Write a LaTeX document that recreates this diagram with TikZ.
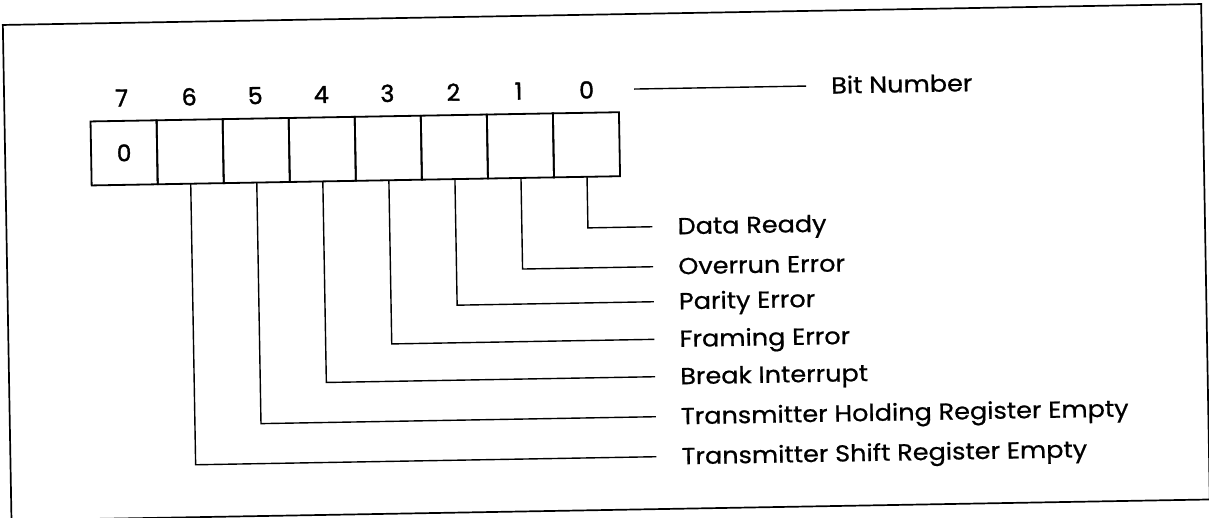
\documentclass[tikz,border=0pt]{standalone}
\usepackage{fontspec}
\setmainfont{Poppins}
\newfontfamily\lblfont[FakeStretch=1.1,FakeBold=0.7]{Poppins}
\newfontfamily\numfont[FakeBold=1.6]{Poppins}
\begin{document}
\begin{tikzpicture}[x=1pt,y=-1pt,
  cell/.style={draw, line width=1.8pt, minimum width=66.06pt, minimum height=64pt,
    inner sep=0pt, outer sep=0pt, font=\numfont\fontsize{23}{25}\selectfont},
  bitnum/.style={inner sep=0pt, font=\numfont\fontsize{23.5}{25}\selectfont},
  lbl/.style={anchor=west, inner sep=0pt, text height=16pt, text depth=0pt,
    font=\lblfont\fontsize{23.2}{25}\selectfont},
  conn/.style={line width=1.4pt},
  frameline/.style={line width=1.7pt}]
\useasboundingbox (0,0) rectangle (1209,517);
\begin{scope}[rotate around={1:(604,258)}, transform shape]
  % outer frame
  \draw[frameline] (7,14.5) rectangle (1205.5,510);
  % register cells
  \node[cell] (c7) at (126.03,144.5) {0};
  \node[cell, anchor=west] (c6) at (c7.east) {};
  \node[cell, anchor=west] (c5) at (c6.east) {};
  \node[cell, anchor=west] (c4) at (c5.east) {};
  \node[cell, anchor=west] (c3) at (c4.east) {};
  \node[cell, anchor=west] (c2) at (c3.east) {};
  \node[cell, anchor=west] (c1) at (c2.east) {};
  \node[cell, anchor=west] (c0) at (c1.east) {};
  % bit numbers
  \node[bitnum] (n7) at (124.5,89.6) {7};
  \node[bitnum] (n6) at (192.09,89.6) {6};
  \node[bitnum] (n5) at (258.15,89.6) {5};
  \node[bitnum] (n4) at (324.21,89.6) {4};
  \node[bitnum] (n3) at (390.27,89.6) {3};
  \node[bitnum] (n2) at (456.33,89.6) {2};
  \node[bitnum] (n1) at (521.5,89.6) {1};
  \node[bitnum] (n0) at (589.5,89.6) {0};
  \node[lbl] (bn) at (834,89.6) {Bit Number};
  \draw[conn, shorten <=40pt, shorten >=25pt] (n0.east) -- (bn.west);
  % field labels
  \node[lbl] (l0) at (678,227.6) {Data Ready};
  \node[lbl] (l1) at (678,267.6) {Overrun Error};
  \node[lbl] (l2) at (678,302.6) {Parity Error};
  \node[lbl] (l3) at (678,340.2) {Framing Error};
  \node[lbl] (l4) at (678,377.6) {Break Interrupt};
  \node[lbl] (l5) at (678,417.6) {Transmitter Holding Register Empty};
  \node[lbl] (l6) at (678,457.6) {Transmitter Shift Register Empty};
  % corner points
  \coordinate (k0) at (588.45,227.6);
  \coordinate (k1) at (522.39,267.6);
  \coordinate (k2) at (456.33,302.6);
  \coordinate (k3) at (390.27,340.2);
  \coordinate (k4) at (324.21,377.6);
  \coordinate (k5) at (258.15,417.6);
  \coordinate (k6) at (192.09,457.6);
  \foreach \i in {0,...,6}{
    \draw[conn, shorten >=25pt] (c\i.south) -- (k\i) -- (l\i.west);
  }
\end{scope}
\end{tikzpicture}
\end{document}
